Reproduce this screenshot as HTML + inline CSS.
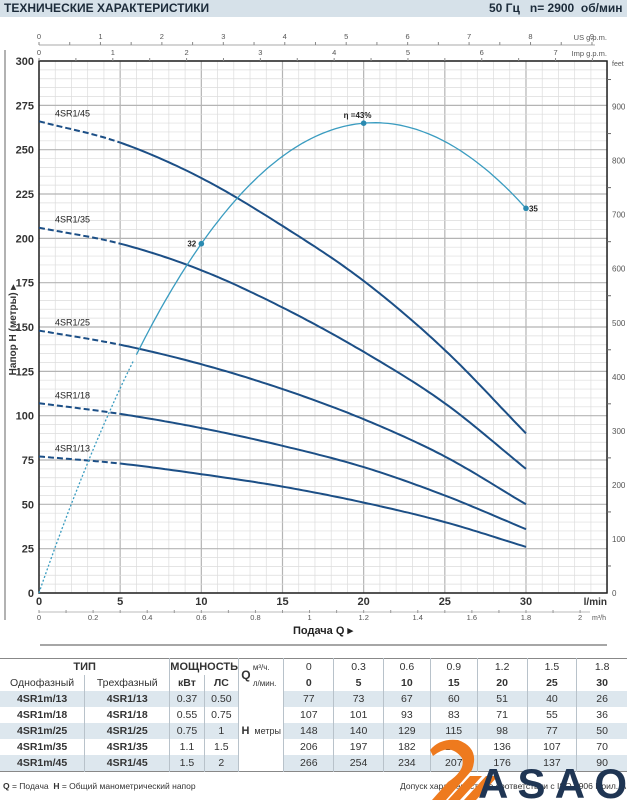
<!DOCTYPE html>
<html><head><meta charset="utf-8">
<style>
body{margin:0;width:627px;height:800px;background:#fff;font-family:"Liberation Sans",sans-serif;overflow:hidden;position:relative}
.hdr{position:absolute;left:0;top:0;width:627px;height:17px;background:#d6e1e9}
.hdr span{position:absolute;top:1px;font-weight:bold;font-size:12px;color:#1c2b3a}
table{position:absolute;left:0;top:658px;border-collapse:collapse;font-size:10.5px;color:#333}
td{height:16px;padding:0;text-align:center;border-right:1px solid #b8c2ca}
tr.s td.d{background:#dde7ee}
</style></head><body>
<div class="hdr"><span style="left:4px">ТЕХНИЧЕСКИЕ ХАРАКТЕРИСТИКИ</span><span style="left:489px">50 Гц &nbsp; n= 2900 &nbsp;об/мин</span></div>
<svg id="c" width="627" height="800" style="position:absolute;left:0;top:0" font-family="Liberation Sans, sans-serif"></svg>
<table>
<tr style="border-top:1.5px solid #888"><td colspan="2" style="width:170px;font-weight:bold;font-size:11px">ТИП</td><td colspan="2" style="font-weight:bold;font-size:11px">МОЩНОСТЬ</td><td rowspan="2" style="width:14px;border-right:none;font-weight:bold;font-size:12px">Q</td><td style="width:31px;font-size:8px;text-align:left">м³/ч.</td>
<td style="width:50px">0</td><td style="width:50px">0.3</td><td style="width:47px">0.6</td><td style="width:47px">0.9</td><td style="width:50px">1.2</td><td style="width:50px">1.5</td><td style="width:51px;border-right:none">1.8</td></tr>
<tr><td style="width:85px">Однофазный</td><td style="width:85px">Трехфазный</td><td style="width:32px;font-weight:bold">кВт</td><td style="width:32px;font-weight:bold">ЛС</td><td style="font-size:8px;text-align:left">л/мин.</td>
<td><b>0</b></td><td><b>5</b></td><td><b>10</b></td><td><b>15</b></td><td><b>20</b></td><td><b>25</b></td><td style="border-right:none"><b>30</b></td></tr>
<tr class="s"><td class="d"><b>4SR1m/13</b></td><td class="d"><b>4SR1/13</b></td><td class="d">0.37</td><td class="d">0.50</td><td colspan="2" rowspan="5" style="font-size:9px"><b style="font-size:11px">H</b> &nbsp;метры</td><td class="d">77</td><td class="d">73</td><td class="d">67</td><td class="d">60</td><td class="d">51</td><td class="d">40</td><td class="d" style="border-right:none">26</td></tr>
<tr><td><b>4SR1m/18</b></td><td><b>4SR1/18</b></td><td>0.55</td><td>0.75</td><td>107</td><td>101</td><td>93</td><td>83</td><td>71</td><td>55</td><td style="border-right:none">36</td></tr>
<tr class="s"><td class="d"><b>4SR1m/25</b></td><td class="d"><b>4SR1/25</b></td><td class="d">0.75</td><td class="d">1</td><td class="d">148</td><td class="d">140</td><td class="d">129</td><td class="d">115</td><td class="d">98</td><td class="d">77</td><td class="d" style="border-right:none">50</td></tr>
<tr><td><b>4SR1m/35</b></td><td><b>4SR1/35</b></td><td>1.1</td><td>1.5</td><td>206</td><td>197</td><td>182</td><td>161</td><td>136</td><td>107</td><td style="border-right:none">70</td></tr>
<tr class="s" style="border-bottom:1.5px solid #888"><td class="d"><b>4SR1m/45</b></td><td class="d"><b>4SR1/45</b></td><td class="d">1.5</td><td class="d">2</td><td class="d">266</td><td class="d">254</td><td class="d">234</td><td class="d">207</td><td class="d">176</td><td class="d">137</td><td class="d" style="border-right:none">90</td></tr>
</table>
<div style="position:absolute;left:3px;top:781px;font-size:8.5px;color:#333"><b>Q</b> = Подача &nbsp;<b>H</b> = Общий манометрический напор</div>
<div style="position:absolute;left:400px;top:781px;font-size:8.5px;color:#333">Допуск характеристик в соответствии с ISO 9906 Прил. A</div>
<svg width="627" height="800" style="position:absolute;left:0;top:0">
<path d="M433 756 Q450 742 462 758 Q466 770 448 782 L432 800 L446 800 L472 770 Q480 748 458 740 Q440 738 430 750Z" fill="#ee7a1e"/>
<path d="M448 800 L470 776 L482 776 L460 800Z M464 800 L486 776 L498 776 L476 800Z" fill="#ee7a1e"/>
<text x="478" y="798" font-family="Liberation Sans, sans-serif" font-weight="bold" font-size="42" fill="#1f3553" textLength="149">ASAO</text>
</svg>
<script>
var s=document.getElementById('c'),h='';
function X(q){return 39+q*16.233}function Y(v){return 593-v*1.7733}
// grid
for(var q=0;q<=35;q++){var x=X(q);h+='<line x1="'+x+'" y1="61" x2="'+x+'" y2="593" stroke="'+(q%5?'#dcdcdc':'#b4b4b4')+'" stroke-width="'+(q%5?0.7:1.2)+'"/>';}
for(var v=0;v<=300;v+=5){var y=Y(v);h+='<line x1="39" y1="'+y+'" x2="607" y2="'+y+'" stroke="'+(v%25?'#dcdcdc':'#b4b4b4')+'" stroke-width="'+(v%25?0.7:1.2)+'"/>';}
h+='<rect x="39" y="61" width="568" height="532" fill="none" stroke="#222" stroke-width="1.5"/>';
h+='<line x1="5" y1="50" x2="5" y2="620" stroke="#999" stroke-width="1.5"/>';
for(var v=0;v<=300;v+=25)h+='<text x="34" y="'+(Y(v)+4)+'" font-size="11" font-weight="bold" text-anchor="end" fill="#333">'+v+'</text>';
for(var f=0;f<=900;f+=100)h+='<text x="612" y="'+(593-f*0.5405+3)+'" font-size="8" fill="#555">'+f+'</text>';
for(var f=50;f<=950;f+=100)h+='<line x1="607" y1="'+(593-f*0.5405)+'" x2="611" y2="'+(593-f*0.5405)+'" stroke="#666"/>';
h+='<text x="612" y="66" font-size="7" fill="#555">feet</text>';
h+='<text x="16" y="330" font-size="10" font-weight="bold" fill="#333" transform="rotate(-90 16 330)" text-anchor="middle">Напор H  (метры) ▸</text>';
// top axes
h+='<line x1="39" y1="45" x2="595" y2="45" stroke="#aaa"/>';
for(var g=0;g<=9;g+=0.5){var x=39+g*61.44;if(x>595)break;h+='<line x1="'+x+'" y1="42" x2="'+x+'" y2="45" stroke="#888"/>';if(g%1==0)h+='<text x="'+x+'" y="39" font-size="7.5" fill="#555" text-anchor="middle">'+g+'</text>';}
for(var g=0;g<=7.5;g+=0.5){var x=39+g*73.79;if(x>595)break;h+='<line x1="'+x+'" y1="58" x2="'+x+'" y2="61" stroke="#888"/>';if(g%1==0)h+='<text x="'+x+'" y="55" font-size="7.5" fill="#555" text-anchor="middle">'+g+'</text>';}
h+='<text x="607" y="40" font-size="7.5" fill="#555" text-anchor="end">US g.p.m.</text><text x="607" y="56" font-size="7.5" fill="#555" text-anchor="end">Imp g.p.m.</text>';
// bottom
for(var q=0;q<=30;q+=5)h+='<text x="'+X(q)+'" y="605" font-size="11" font-weight="bold" fill="#333" text-anchor="middle">'+q+'</text>';
h+='<text x="607" y="605" font-size="10" font-weight="bold" fill="#333" text-anchor="end">l/min</text>';
h+='<line x1="39" y1="612" x2="590" y2="612" stroke="#bbb"/>';
for(var m=0;m<=2.1;m+=0.1){var x=X(m*1000/60);h+='<line x1="'+x+'" y1="610" x2="'+x+'" y2="613" stroke="#999"/>';if(Math.round(m*10)%2==0)h+='<text x="'+x+'" y="620" font-size="7.5" fill="#555" text-anchor="middle">'+(Math.round(m*10)/10)+'</text>';}
h+='<text x="592" y="620" font-size="7" fill="#555">m³/h</text>';
h+='<text x="323" y="634" font-size="11" font-weight="bold" fill="#222" text-anchor="middle">Подача  Q ▸</text>';
h+='<line x1="40" y1="645" x2="607" y2="645" stroke="#888" stroke-width="1.5"/>';
// pump curves
var P=[[77,73,67,60,51,40,26,'4SR1/13'],[107,101,93,83,71,55,36,'4SR1/18'],[148,140,129,115,98,77,50,'4SR1/25'],[206,197,182,161,136,107,70,'4SR1/35'],[266,254,234,207,176,137,90,'4SR1/45']];
function interp(d,q){var i=Math.min(5,Math.floor(q/5)),t=q/5-i;var p0=d[Math.max(0,i-1)],p1=d[i],p2=d[i+1],p3=d[Math.min(6,i+2)];if(i==0)p0=2*p1-p2;if(i==5)p3=2*p2-p1;return 0.5*((2*p1)+(-p0+p2)*t+(2*p0-5*p1+4*p2-p3)*t*t+(-p0+3*p1-3*p2+p3)*t*t*t);}
P.forEach(function(d){var a='',b='';for(var q=0;q<=5;q+=0.25)a+=(a?'L':'M')+X(q).toFixed(1)+' '+Y(interp(d,q)).toFixed(1);for(var q=5;q<=30.001;q+=0.25)b+=(b?'L':'M')+X(q).toFixed(1)+' '+Y(interp(d,q)).toFixed(1);
h+='<path d="'+a+'" fill="none" stroke="#1c4f86" stroke-width="2" stroke-dasharray="6 3"/><path d="'+b+'" fill="none" stroke="#1c4f86" stroke-width="2"/>';
h+='<text x="55" y="'+(Y(d[0])-5)+'" font-size="9" fill="#222">'+d[7]+'</text>';});
// efficiency
function E(q){return 0.002167*q*q*q-0.71*q*q+26.58*q;}
var a='',b='';for(var q=0;q<=6;q+=0.2)a+=(a?'L':'M')+X(q).toFixed(1)+' '+Y(E(q)).toFixed(1);for(var q=6;q<=30.001;q+=0.25)b+=(b?'L':'M')+X(q).toFixed(1)+' '+Y(E(q)).toFixed(1);
h+='<path d="'+a+'" fill="none" stroke="#3a9cc0" stroke-width="1.3" stroke-dasharray="2 2"/><path d="'+b+'" fill="none" stroke="#3a9cc0" stroke-width="1.3"/>';
[[10,'32',-14,3],[20,'η =43%',-20,-5],[30,'35',3,3]].forEach(function(p){var x=X(p[0]),y=Y(E(p[0]));h+='<circle cx="'+x+'" cy="'+y+'" r="2.8" fill="#2a8ab0"/><text x="'+(x+p[2])+'" y="'+(y+p[3])+'" font-size="8" font-weight="bold" fill="#222">'+p[1]+'</text>';});
s.innerHTML=h;
</script>
</body></html>
